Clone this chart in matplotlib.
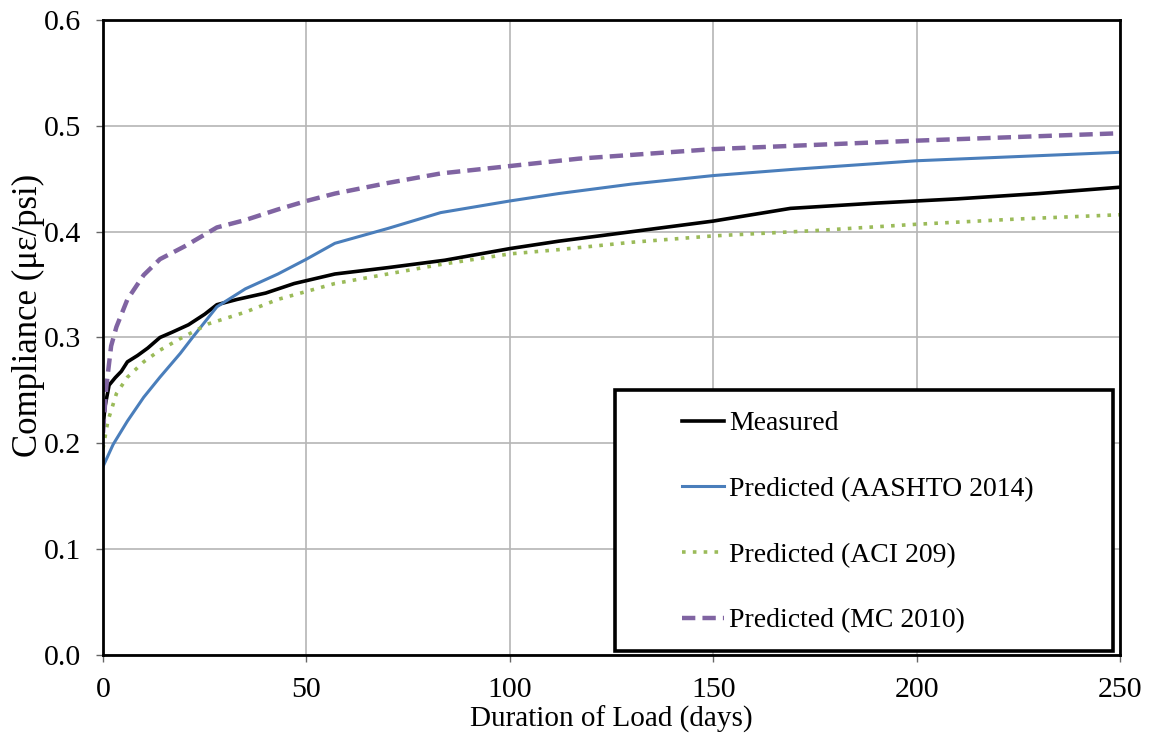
import matplotlib
matplotlib.use("Agg")
import matplotlib.pyplot as plt
from matplotlib.patches import Rectangle

# ---- data ----
meas_days = [0, 0.5, 1.5, 3, 4.5, 6, 8.5, 11, 14, 17, 21, 25, 28, 33, 40, 47, 57, 70, 84, 100, 112, 130, 150, 169, 190, 210, 230, 250]
meas_vals = [0.215, 0.235, 0.255, 0.262, 0.268, 0.277, 0.283, 0.290, 0.300, 0.305, 0.312, 0.322, 0.331, 0.336, 0.342, 0.351, 0.360, 0.366, 0.373, 0.384, 0.391, 0.400, 0.410, 0.422, 0.427, 0.431, 0.436, 0.442]

aashto_days = [0, 2.5, 6, 10, 14, 19, 22, 28, 35, 43, 50, 57, 70, 83, 100, 112, 130, 150, 170, 200, 225, 250]
aashto_vals = [0.178, 0.199, 0.221, 0.2435, 0.2625, 0.285, 0.300, 0.329, 0.346, 0.360, 0.374, 0.389, 0.403, 0.418, 0.429, 0.436, 0.445, 0.453, 0.459, 0.467, 0.471, 0.475]

aci_days = [0, 1.2, 3.3, 6, 10, 14, 19, 26, 35, 43, 57, 70, 83, 100, 112, 130, 150, 175, 200, 225, 250]
aci_vals = [0.195, 0.221, 0.247, 0.2625, 0.277, 0.288, 0.299, 0.313, 0.324, 0.336, 0.351, 0.360, 0.369, 0.379, 0.383, 0.390, 0.396, 0.401, 0.407, 0.412, 0.416]

mc_days = [0, 0.8, 2, 3.3, 6, 10, 14, 20, 28, 35, 43, 50, 57, 70, 83, 100, 117, 150, 200, 250]
mc_vals = [0.21, 0.253, 0.292, 0.31, 0.336, 0.359, 0.374, 0.386, 0.404, 0.411, 0.421, 0.429, 0.436, 0.446, 0.455, 0.462, 0.469, 0.478, 0.486, 0.493]

labels = ["Measured", "Predicted (AASHTO 2014)", "Predicted (ACI 209)", "Predicted (MC 2010)"]
x_ticks = [0, 50, 100, 150, 200, 250]
y_ticks = [0.0, 0.1, 0.2, 0.3, 0.4, 0.5, 0.6]

plt.rcParams['font.family'] = ['Liberation Serif', 'DejaVu Serif']

fig = plt.figure(figsize=(11.49, 7.42), dpi=100)
ax = fig.add_axes([103/1149, 1 - 655/742, (1120-103)/1149, (655-20)/742])

ax.plot(meas_days, meas_vals, color="black", lw=2.6, label=labels[0])
ax.plot(aashto_days, aashto_vals, color="#4a7ebb", lw=2.2, label=labels[1])
ax.plot(aci_days, aci_vals, color="#9bbb59", lw=2.6, linestyle=(0, (1, 2)), label=labels[2])
ax.plot(mc_days, mc_vals, color="#8064a2", lw=3.2, linestyle=(0, (3, 1.6)), label=labels[3])

ax.set_xlim(0, 250)
ax.set_ylim(0, 0.6)
ax.set_xticks(x_ticks)
ax.set_yticks(y_ticks)
ax.set_yticklabels([f"{v:.1f}" for v in y_ticks])
ax.grid(True, color="#b5b5b5", lw=1.2)
ax.set_axisbelow(True)
for s in ax.spines.values():
    s.set_color("black")
    s.set_linewidth(2)
ax.tick_params(axis="both", direction="out", length=5, width=1, color="#666666", labelsize=21.5, pad=11)

ax.set_xlabel("Duration of Load (days)", fontsize=21, labelpad=2)
ax.set_ylabel("Compliance (\u03bc\u03b5/psi)", fontsize=25)
ax.yaxis.set_label_coords(-0.057, 0.535)

# legend frame (white box with black border)
frame = Rectangle((0.5034, 0.0063), 0.4897, 0.411, transform=ax.transAxes,
                  facecolor="white", edgecolor="black", lw=2.6, zorder=4.5)
ax.add_patch(frame)

leg = ax.legend(loc="upper left", bbox_to_anchor=((682-103)/1017, (655-411)/635),
                fontsize=20, frameon=False, borderaxespad=0, borderpad=0,
                handlelength=1.5, handletextpad=0.2, labelspacing=1.45)
leg.set_zorder(5)

fig.savefig("out.png", dpi=100)
